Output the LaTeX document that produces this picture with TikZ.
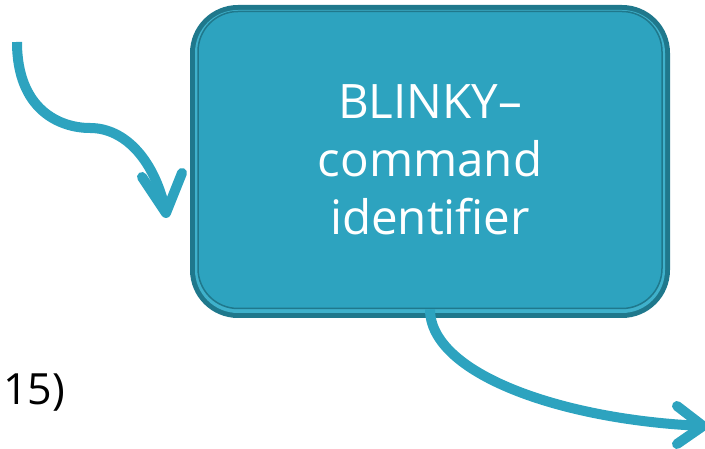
\documentclass[tikz,border=0pt]{standalone}
\usepackage{fontspec}
\setmainfont{Open Sans}
\usetikzlibrary{backgrounds,calc}
\definecolor{tealfill}{HTML}{2DA3BF}
\definecolor{tealdark}{HTML}{1F788C}
\definecolor{teallight}{HTML}{3FB1CB}
\begin{document}
\begin{tikzpicture}[x=1pt,y=1pt,
  box/.style={rounded corners=40pt, fill=tealfill, draw=tealdark, line width=1.5pt,
    minimum width=464pt, minimum height=297pt, inner sep=0pt, align=center,
    text=white, font=\fontsize{47.5}{58}\selectfont},
  flow/.style={draw=tealfill, line width=10pt, line cap=butt, line join=round},
  tip/.style={draw=tealfill, line width=10pt, line cap=round, line join=round},
  lbl/.style={font=\fontsize{43}{52}\selectfont, text=black, inner sep=0pt}]
\useasboundingbox (0,0) rectangle (705,449);
% box
\node[box] (box) at (430,289) {BLINKY–\\command\\identifier};
\begin{scope}[on background layer]
  \fill[tealdark, rounded corners=48pt] ($(box.center)+(-240,-158)$) rectangle ($(box.center)+(240,155)$);
  \fill[teallight, rounded corners=43pt] ($(box.center)+(-235,-153)$) rectangle ($(box.center)+(235,150)$);
\end{scope}
% left incoming arrow
\coordinate (inStart) at (17,407);
\coordinate (inTip) at (166,236);
\draw[flow] (inStart) .. controls (17,339) and (60,321) .. (90,321)
  .. controls (125,321) and (155,289) .. (inTip);
\draw[tip] (142,272) -- (inTip) -- (182,276);
% bottom outgoing arrow
\coordinate (outTip) at (703,23);
\draw[flow] (box.south) .. controls ($(box.south)+(0,-64)$) and (560,29) .. (outTip);
\draw[tip] (677,43) -- (outTip) -- (677,5);
% partial label
\node[lbl, anchor=base west] (yr) at (3,44) {15)};
\end{tikzpicture}
\end{document}
